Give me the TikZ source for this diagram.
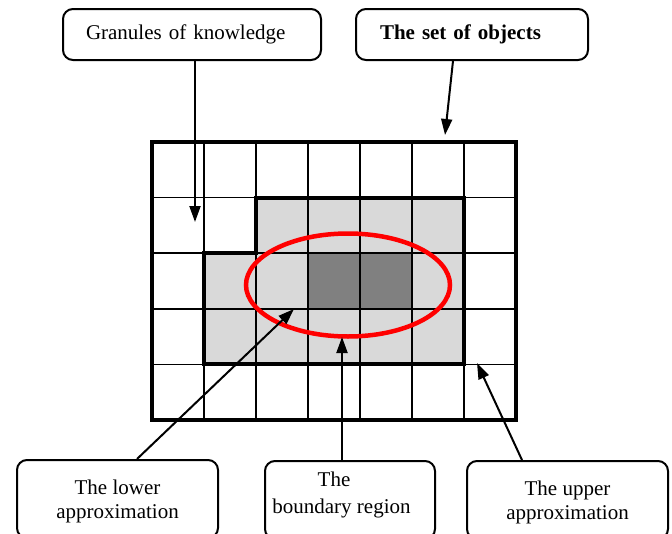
\documentclass[tikz,border=0pt]{standalone}
\usepackage{fontspec}
\setmainfont{Liberation Serif}
\usetikzlibrary{arrows.meta}

\tikzset{
  labelbox/.style={draw,line width=2pt,rounded corners=10pt,fill=white},
  gridline/.style={line width=1.5pt},
}

\begin{document}
\begin{tikzpicture}[x=1pt,y=-1pt,>={Triangle[length=16pt,width=11pt]},font=\fontsize{21}{24}\selectfont]
\path[use as bounding box] (0,0) rectangle (672,533);

% shaded cells
\fill[black!15] (256,197.6) -- (464,197.6) -- (464,364.4) -- (204,364.4)
  -- (204,253.2) -- (256,253.2) -- cycle;
\fill[black!50] (308,253.2) rectangle (412,308.8);

% grid
\foreach \x in {204,256,...,464}
  \draw[gridline] (\x,142) -- (\x,420);
\foreach \y in {197.6,253.2,308.8,364.4}
  \draw[gridline] (152,\y) -- (516,\y);

% upper approximation outline and the set of objects
\draw[line width=4pt] (256,197.6) -- (464,197.6) -- (464,364.4) -- (204,364.4)
  -- (204,253.2) -- (256,253.2) -- cycle;
\draw[line width=4.5pt] (152,142) rectangle (516,420);

% the set X
\draw[red,line width=4.5pt] (348,285) ellipse [x radius=102pt, y radius=51.5pt];

% labels
\node[labelbox,anchor=north west,text width=212pt,inner xsep=23pt,minimum height=51pt,align=left]
  (gran) at (62,8) {Granules of knowledge};
\node[labelbox,anchor=north west,text width=184pt,inner xsep=24pt,minimum height=51pt,align=left,
  font=\fontsize{21}{24}\selectfont\bfseries]
  (objs) at (355,8) {The set of objects};
\node[labelbox,anchor=north,minimum width=201pt,minimum height=78pt,align=center,text depth=0pt]
  (lower) at (117.5,459) {The lower\\approximation};
\node[labelbox,anchor=north,minimum width=170pt,minimum height=78pt,align=center,text depth=14pt]
  (bound) at (350,460) {The\rule{32pt}{0pt}\\[3pt]boundary region\rule{17pt}{0pt}};
\node[labelbox,anchor=north,minimum width=201pt,minimum height=78pt,align=center,text depth=0pt]
  (upper) at (567.5,460) {The upper\\approximation};

% arrow tips
\coordinate (granTip) at (195,222);
\coordinate (objsTip) at (445,135);
\coordinate (lowerTip) at (294,309);
\coordinate (boundTip) at (342,337);
\coordinate (upperTip) at (477,363);

\draw[->,line width=2pt] (gran.south -| granTip) -- (granTip);
\draw[->,line width=2pt] ([xshift=-19pt]objs.south) -- (objsTip);
\draw[->,line width=2pt] ([xshift=19.5pt]lower.north) -- (lowerTip);
\draw[->,line width=2pt] (bound.north -| boundTip) -- (boundTip);
\draw[->,line width=2pt] ([xshift=-45.5pt]upper.north) -- (upperTip);
\end{tikzpicture}
\end{document}
